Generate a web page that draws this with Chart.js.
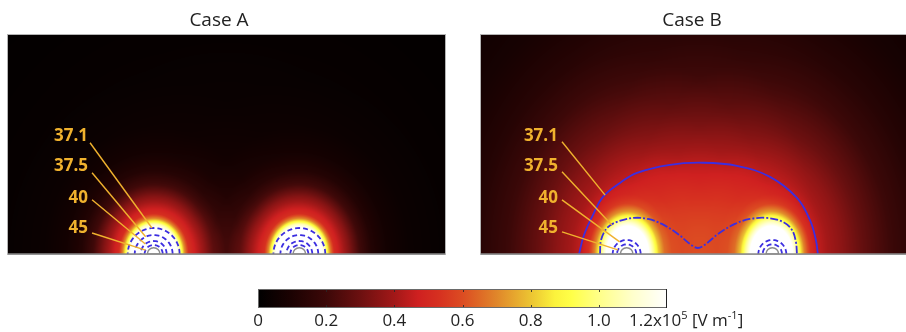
<!DOCTYPE html>
<html>
<head>
<meta charset="utf-8">
<script src="https://cdn.jsdelivr.net/npm/chart.js@4.4.1/dist/chart.umd.min.js"></script>
<style>
  html, body { margin: 0; padding: 0; background: #fff; width: 906px; height: 332px; overflow: hidden; position: relative; }
  canvas { position: absolute; display: block; }
  #caseA { left: 0; top: 0; }
  #caseB { left: 473px; top: 0; }
  #fieldBar { left: 240px; top: 280px; }
</style>
</head>
<body>
<canvas id="caseA" width="460" height="262"></canvas>
<canvas id="caseB" width="460" height="262"></canvas>
<canvas id="fieldBar" width="520" height="52"></canvas>
<script>
// ---- data -------------------------------------------------------------
// Isotherm levels (°C) labelled on both panels
const isothermLevels = ['37.1', '37.5', '40', '45'];

// Electrode centres along the bottom edge (mm) and electrode radius (mm)
const electrodeX = [10, 20];
const electrodeRadius = 0.43;

// Case A: isotherms are rings around each electrode, radius per level (mm)
const ringRadiiA = [1.78, 1.30, 0.89, 0.62];

// Case B: 40 and 45 °C rings (mm); 37.1 and 37.5 °C traced as outlines (x, y in mm)
const ringRadiiB = [0.96, 0.66];
const isotherm371B = [[6.73, 0], [7.07, 1.30], [7.69, 2.68], [8.37, 3.91], [9.54, 4.87], [10.71, 5.56],
  [12.97, 6.11], [15.17, 6.25], [17.57, 6.04], [19.84, 5.28], [21.69, 3.84], [22.58, 2.33], [22.99, 0.96], [23.13, 0]];
const isotherm375B = [[8.17, 0], [8.24, 0.96], [8.65, 1.78], [9.33, 2.20], [10.43, 2.47], [11.46, 2.40],
  [12.42, 2.06], [13.52, 1.37], [14.34, 0.69], [14.89, 0.41], [15.44, 0.69], [16.27, 1.37], [17.43, 2.06],
  [18.46, 2.40], [19.63, 2.47], [20.73, 2.20], [21.35, 1.65], [21.62, 0.82], [21.69, 0]];

// Electric field (x10^5 V/m) of one electrode against distance from it (mm)
const distanceA = [0, 1.51, 1.78, 1.92, 2.13, 2.40, 2.88, 3.43, 4.12, 4.94, 6.04, 7.55, 10.3, 15.1, 22.6];
const fieldA    = [1.3, 1.22, 1.05, 0.9, 0.68, 0.5, 0.42, 0.33, 0.2, 0.11, 0.06, 0.032, 0.017, 0.009, 0.004];
const distanceB = [0, 1.24, 1.51, 1.85, 2.20, 2.61, 3.09, 3.77, 4.80, 6.18, 8.24, 10.3, 13.04, 17.16, 22.65, 30.9];
const fieldB    = [1.3, 1.2, 1.05, 0.85, 0.62, 0.46, 0.39, 0.35, 0.31, 0.245, 0.165, 0.105, 0.06, 0.032, 0.016, 0.008];

// Colour bar ticks (x10^5 V/m)
const fieldTicks = [0, 0.2, 0.4, 0.6, 0.8, 1.0, 1.2];
const fieldTickLabels = ['0', '0.2', '0.4', '0.6', '0.8', '1.0', '1.2'];

// ---- styles -----------------------------------------------------------
const heatPalette = [
  [0, '#000000'], [0.1, '#1c0202'], [0.2, '#3c0808'], [0.3, '#6c1010'], [0.4, '#a21818'],
  [0.47, '#cf2020'], [0.53, '#d63020'], [0.6, '#dc4c22'], [0.7, '#e0862a'], [0.8, '#ecc432'],
  [0.87, '#fbf23c'], [0.92, '#ffff48'], [1.0, '#ffff88'], [1.1, '#ffffcc'], [1.2, '#ffffff']
];
const contourBlue = '#3c2ee0';
const calloutGold = '#f0b22e';
const uiFont = "'Open Sans', 'Noto Sans', sans-serif";

const hexRgb = h => [parseInt(h.slice(1, 3), 16), parseInt(h.slice(3, 5), 16), parseInt(h.slice(5, 7), 16)];
const heatStops = heatPalette.map(([v, c]) => [v, hexRgb(c)]);

function heatColour(v) {
  if (v <= heatStops[0][0]) return heatStops[0][1];
  for (let i = 1; i < heatStops.length; i++) {
    const [v1, c1] = heatStops[i];
    if (v <= v1) {
      const [v0, c0] = heatStops[i - 1];
      const t = (v - v0) / (v1 - v0);
      return c0.map((c, k) => c + (c1[k] - c) * t);
    }
  }
  return heatStops[heatStops.length - 1][1];
}

function lookup(xs, ys, x) {
  if (x <= xs[0]) return ys[0];
  for (let i = 1; i < xs.length; i++) {
    if (x <= xs[i]) {
      const t = (x - xs[i - 1]) / (xs[i] - xs[i - 1]);
      return ys[i - 1] + (ys[i] - ys[i - 1]) * t;
    }
  }
  return ys[ys.length - 1];
}

// Half ring of given radius around an electrode, as scatter points
function ringPoints(cx, r) {
  const pts = [];
  for (let a = 0; a <= 180; a += 5) {
    const t = a * Math.PI / 180;
    pts.push({ x: cx + r * Math.cos(t), y: r * Math.sin(t) });
  }
  return pts;
}
const asPoints = list => list.map(([x, y]) => ({ x, y }));

// ---- panels -----------------------------------------------------------
const panelA = {
  title: 'Case A',
  distance: distanceA, field: fieldA, reach: 1.15,
  contours: [
    ...electrodeX.flatMap(cx => ringRadiiA.map(r => ({ points: ringPoints(cx, r), dash: [5, 3], tension: 0 })))
  ],
  callout: {
    textRight: 5.49, textY: [8.17, 6.11, 3.91, 1.85],
    from: [[5.63, 7.62], [5.77, 5.56], [5.77, 3.71], [5.77, 1.44]],
    to:   [[9.88, 1.78], [9.45, 1.18], [9.43, 0.68], [9.44, 0.26]]
  }
};

const panelB = {
  title: 'Case B',
  distance: distanceB, field: fieldB, reach: 1.33,
  contours: [
    { points: asPoints(isotherm371B), dash: [], tension: 0.4 },
    { points: asPoints(isotherm375B), dash: [8, 2, 2, 2], tension: 0.35 },
    ...electrodeX.flatMap(cx => ringRadiiB.map(r => ({ points: ringPoints(cx, r), dash: [5, 3], tension: 0 })))
  ],
  callout: {
    textRight: 5.28, textY: [8.17, 6.11, 3.91, 1.85],
    from: [[5.56, 7.69], [5.56, 5.63], [5.56, 3.71], [5.56, 1.51]],
    to:   [[8.52, 4.03], [8.98, 1.98], [9.52, 0.83], [9.40, 0.28]]
  }
};

function fieldAt(panel, x, y) {
  let e = 0;
  for (const ex of electrodeX) {
    const r = Math.hypot(x - ex, y / panel.reach);
    e += lookup(panel.distance, panel.field, r);
  }
  return e;
}

function panelPlugin(panel) {
  return {
    id: 'fieldPanel',
    beforeDatasetsDraw(chart) {
      const { ctx, chartArea: a, scales: { x, y } } = chart;
      const left = Math.round(a.left), top = Math.round(a.top);
      const w = Math.round(a.right) - left, h = Math.round(a.bottom) - top;
      const img = ctx.createImageData(w, h);
      for (let j = 0; j < h; j++) {
        const yv = y.getValueForPixel(top + j + 0.5);
        for (let i = 0; i < w; i++) {
          const xv = x.getValueForPixel(left + i + 0.5);
          const c = heatColour(fieldAt(panel, xv, yv));
          const k = (j * w + i) * 4;
          img.data[k] = c[0]; img.data[k + 1] = c[1]; img.data[k + 2] = c[2]; img.data[k + 3] = 255;
        }
      }
      ctx.putImageData(img, left, top);
    },
    afterDatasetsDraw(chart) {
      const { ctx, chartArea: a, scales: { x, y } } = chart;
      ctx.save();
      // electrodes
      for (const ex of electrodeX) {
        const cx = x.getPixelForValue(ex), cy = y.getPixelForValue(0);
        const r = x.getPixelForValue(ex + electrodeRadius) - cx;
        ctx.beginPath();
        ctx.arc(cx, cy, r, Math.PI, 2 * Math.PI);
        ctx.closePath();
        ctx.fillStyle = '#ffffff';
        ctx.fill();
        ctx.lineWidth = 1.5;
        ctx.strokeStyle = '#8c8c8c';
        ctx.stroke();
      }
      // frame and base line
      ctx.lineWidth = 1;
      ctx.strokeStyle = '#b4b4b4';
      ctx.strokeRect(a.left - 0.5, a.top - 0.5, a.right - a.left + 1, a.bottom - a.top + 1);
      ctx.strokeStyle = '#8a8a8a';
      ctx.lineWidth = 1.5;
      ctx.beginPath();
      ctx.moveTo(a.left, a.bottom);
      ctx.lineTo(a.right, a.bottom);
      ctx.stroke();
      // callouts
      const co = panel.callout;
      ctx.strokeStyle = calloutGold;
      ctx.lineWidth = 1.4;
      co.from.forEach((p, i) => {
        ctx.beginPath();
        ctx.moveTo(x.getPixelForValue(p[0]), y.getPixelForValue(p[1]));
        ctx.lineTo(x.getPixelForValue(co.to[i][0]), y.getPixelForValue(co.to[i][1]));
        ctx.stroke();
      });
      ctx.fillStyle = calloutGold;
      ctx.font = `bold 17px ${uiFont}`;
      ctx.textAlign = 'right';
      ctx.textBaseline = 'alphabetic';
      isothermLevels.forEach((lbl, i) => {
        ctx.fillText(lbl, x.getPixelForValue(co.textRight), y.getPixelForValue(co.textY[i]) + 6);
      });
      // title
      ctx.fillStyle = '#222';
      ctx.font = `19px ${uiFont}`;
      ctx.textAlign = 'center';
      ctx.fillText(panel.title, a.left + 211, 26);
      ctx.restore();
    }
  };
}

function makePanel(id, panel) {
  return new Chart(document.getElementById(id), {
    type: 'scatter',
    data: {
      datasets: panel.contours.map(c => ({
        data: c.points, showLine: true, borderColor: contourBlue, borderWidth: 1.8,
        borderDash: c.dash, pointRadius: 0, tension: c.tension, fill: false
      }))
    },
    options: {
      responsive: false, animation: false, devicePixelRatio: 1, events: [],
      layout: { padding: { left: 8, top: 35, right: 15, bottom: 8 } },
      scales: {
        x: { type: 'linear', min: 0, max: 30, display: false },
        y: { type: 'linear', min: 0, max: 15, display: false }
      },
      plugins: { legend: { display: false }, tooltip: { enabled: false } }
    },
    plugins: [panelPlugin(panel)]
  });
}

makePanel('caseA', panelA);
makePanel('caseB', panelB);

// ---- colour bar -------------------------------------------------------
const barPlugin = {
  id: 'fieldBar',
  beforeDatasetsDraw(chart) {
    const { ctx, chartArea: a, scales: { x } } = chart;
    const x0 = x.getPixelForValue(fieldTicks[0]);
    const x1 = x.getPixelForValue(fieldTicks[fieldTicks.length - 1]);
    const g = ctx.createLinearGradient(x0, 0, x1, 0);
    const span = fieldTicks[fieldTicks.length - 1] - fieldTicks[0];
    heatPalette.forEach(([v, c]) => g.addColorStop((v - fieldTicks[0]) / span, c));
    ctx.save();
    ctx.fillStyle = g;
    ctx.fillRect(x0, a.top, x1 - x0, a.bottom - a.top);
    // inner tick marks
    ctx.strokeStyle = 'rgba(40,40,40,0.85)';
    ctx.lineWidth = 1;
    fieldTicks.slice(1, -1).forEach(v => {
      const px = Math.round(x.getPixelForValue(v)) + 0.5;
      ctx.beginPath();
      ctx.moveTo(px, a.top); ctx.lineTo(px, a.top + 3);
      ctx.moveTo(px, a.bottom); ctx.lineTo(px, a.bottom - 3);
      ctx.stroke();
    });
    ctx.strokeStyle = '#6a6a6a';
    ctx.strokeRect(x0 + 0.5, a.top + 0.5, x1 - x0 - 1, a.bottom - a.top - 1);
    ctx.strokeStyle = '#222';
    ctx.beginPath();
    ctx.moveTo(x1 - 0.5, a.top); ctx.lineTo(x1 - 0.5, a.bottom);
    ctx.stroke();

    // end label with unit: 1.2x10^5 [V m^-1]
    const last = fieldTicks.length - 1;
    let tx = x.getPixelForValue(fieldTicks[last]) - 38;
    const base = a.bottom + 18;
    ctx.fillStyle = '#222';
    ctx.textAlign = 'left';
    ctx.textBaseline = 'alphabetic';
    const parts = [
      [fieldTickLabels[last] + 'x10', 17, 0], ['5', 11, -7], [' [V m', 17, 0], ['-1', 11, -7], [']', 17, 0]
    ];
    parts.forEach(([t, size, dy]) => {
      ctx.font = `${size}px ${uiFont}`;
      ctx.fillText(t, tx, base + dy);
      tx += ctx.measureText(t).width;
    });
    ctx.restore();
  }
};

new Chart(document.getElementById('fieldBar'), {
  type: 'scatter',
  data: { datasets: [] },
  options: {
    responsive: false, animation: false, devicePixelRatio: 1, events: [],
    layout: { padding: { left: 18, top: 9, right: 93, bottom: 0 } },
    scales: {
      x: {
        type: 'linear', min: fieldTicks[0], max: fieldTicks[fieldTicks.length - 1],
        afterBuildTicks: s => { s.ticks = fieldTicks.map(v => ({ value: v })); },
        afterFit: s => { s.height = 24; },
        grid: { display: false, drawTicks: false },
        border: { display: false },
        ticks: {
          padding: 3, color: '#222', font: { family: uiFont, size: 17 }, maxRotation: 0, autoSkip: false,
          callback: (v, i) => (i === fieldTicks.length - 1 ? '' : fieldTickLabels[i])
        }
      },
      y: { display: false, min: 0, max: 1 }
    },
    plugins: { legend: { display: false }, tooltip: { enabled: false } }
  },
  plugins: [barPlugin]
});
</script>
</body>
</html>
